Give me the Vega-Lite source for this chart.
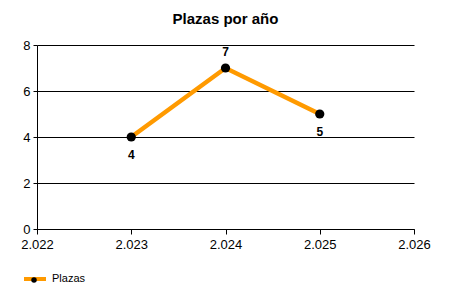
{
  "$schema": "https://vega.github.io/schema/vega-lite/v6.json",
  "autosize": "none",
  "width": 377,
  "height": 184,
  "padding": {"left": 37, "top": 45, "right": 36, "bottom": 71},
  "background": "white",
  "title": {"text": "Plazas por año", "font": "Liberation Sans", "fontSize": 15, "fontWeight": "bold", "color": "#000000", "anchor": "middle", "offset": 12},
  "data": {"values": [
    {"anio": 2023, "plazas": 4},
    {"anio": 2024, "plazas": 7},
    {"anio": 2025, "plazas": 5}
  ]},
  "config": {
    "view": {"stroke": null},
    "font": "Liberation Sans",
    "axis": {"labelFont": "Liberation Sans", "labelFontSize": 13, "labelColor": "#000000", "domainColor": "#000000", "tickColor": "#000000", "gridColor": "#000000", "gridOpacity": 1, "title": null}
  },
  "layer": [
    {
      "mark": {"type": "line", "strokeWidth": 4.5, "color": "#ff9a00"},
      "encoding": {
        "x": {"field": "anio", "type": "quantitative", "scale": {"domain": [2022, 2026], "nice": false, "zero": false},
          "axis": {"values": [2022, 2023, 2024, 2025, 2026], "grid": false, "tickSize": 5, "labelPadding": 4, "labelExpr": "replace(format(datum.value, ',d'), ',', '.')", "labelFlush": false, "labelOverlap": false}},
        "y": {"field": "plazas", "type": "quantitative", "scale": {"domain": [0, 8], "nice": false},
          "axis": {"values": [0, 2, 4, 6, 8], "grid": true, "tickSize": 4, "labelPadding": 3}},
        "color": {"datum": "Plazas", "scale": {"range": ["#ff9a00"]},
          "legend": {"orient": "none", "legendX": -15, "legendY": 221, "title": null, "symbolType": "stroke", "symbolSize": 484, "symbolStrokeWidth": 4, "labelFont": "Liberation Sans", "labelFontSize": 11, "labelColor": "#000000", "labelOffset": 4}}
      }
    },
    {
      "mark": {"type": "point", "filled": true, "size": 85, "color": "#000000", "opacity": 1},
      "encoding": {
        "x": {"field": "anio", "type": "quantitative"},
        "y": {"field": "plazas", "type": "quantitative"},
        "shape": {"datum": "punto", "scale": {"range": ["circle"]},
          "legend": {"orient": "none", "legendX": -8, "legendY": 230, "title": null, "symbolSize": 30, "symbolFillColor": "#000000", "symbolStrokeColor": "#000000", "labelExpr": "''"}}
      }
    },
    {
      "transform": [{"filter": "datum.plazas != 7"}],
      "mark": {"type": "text", "fontWeight": "bold", "fontSize": 12, "font": "Liberation Sans", "color": "#000000", "baseline": "middle", "dy": 18},
      "encoding": {
        "x": {"field": "anio", "type": "quantitative"},
        "y": {"field": "plazas", "type": "quantitative"},
        "text": {"field": "plazas", "type": "quantitative"}
      }
    },
    {
      "transform": [{"filter": "datum.plazas == 7"}],
      "mark": {"type": "text", "fontWeight": "bold", "fontSize": 12, "font": "Liberation Sans", "color": "#000000", "baseline": "middle", "dy": -16},
      "encoding": {
        "x": {"field": "anio", "type": "quantitative"},
        "y": {"field": "plazas", "type": "quantitative"},
        "text": {"field": "plazas", "type": "quantitative"}
      }
    }
  ]
}
